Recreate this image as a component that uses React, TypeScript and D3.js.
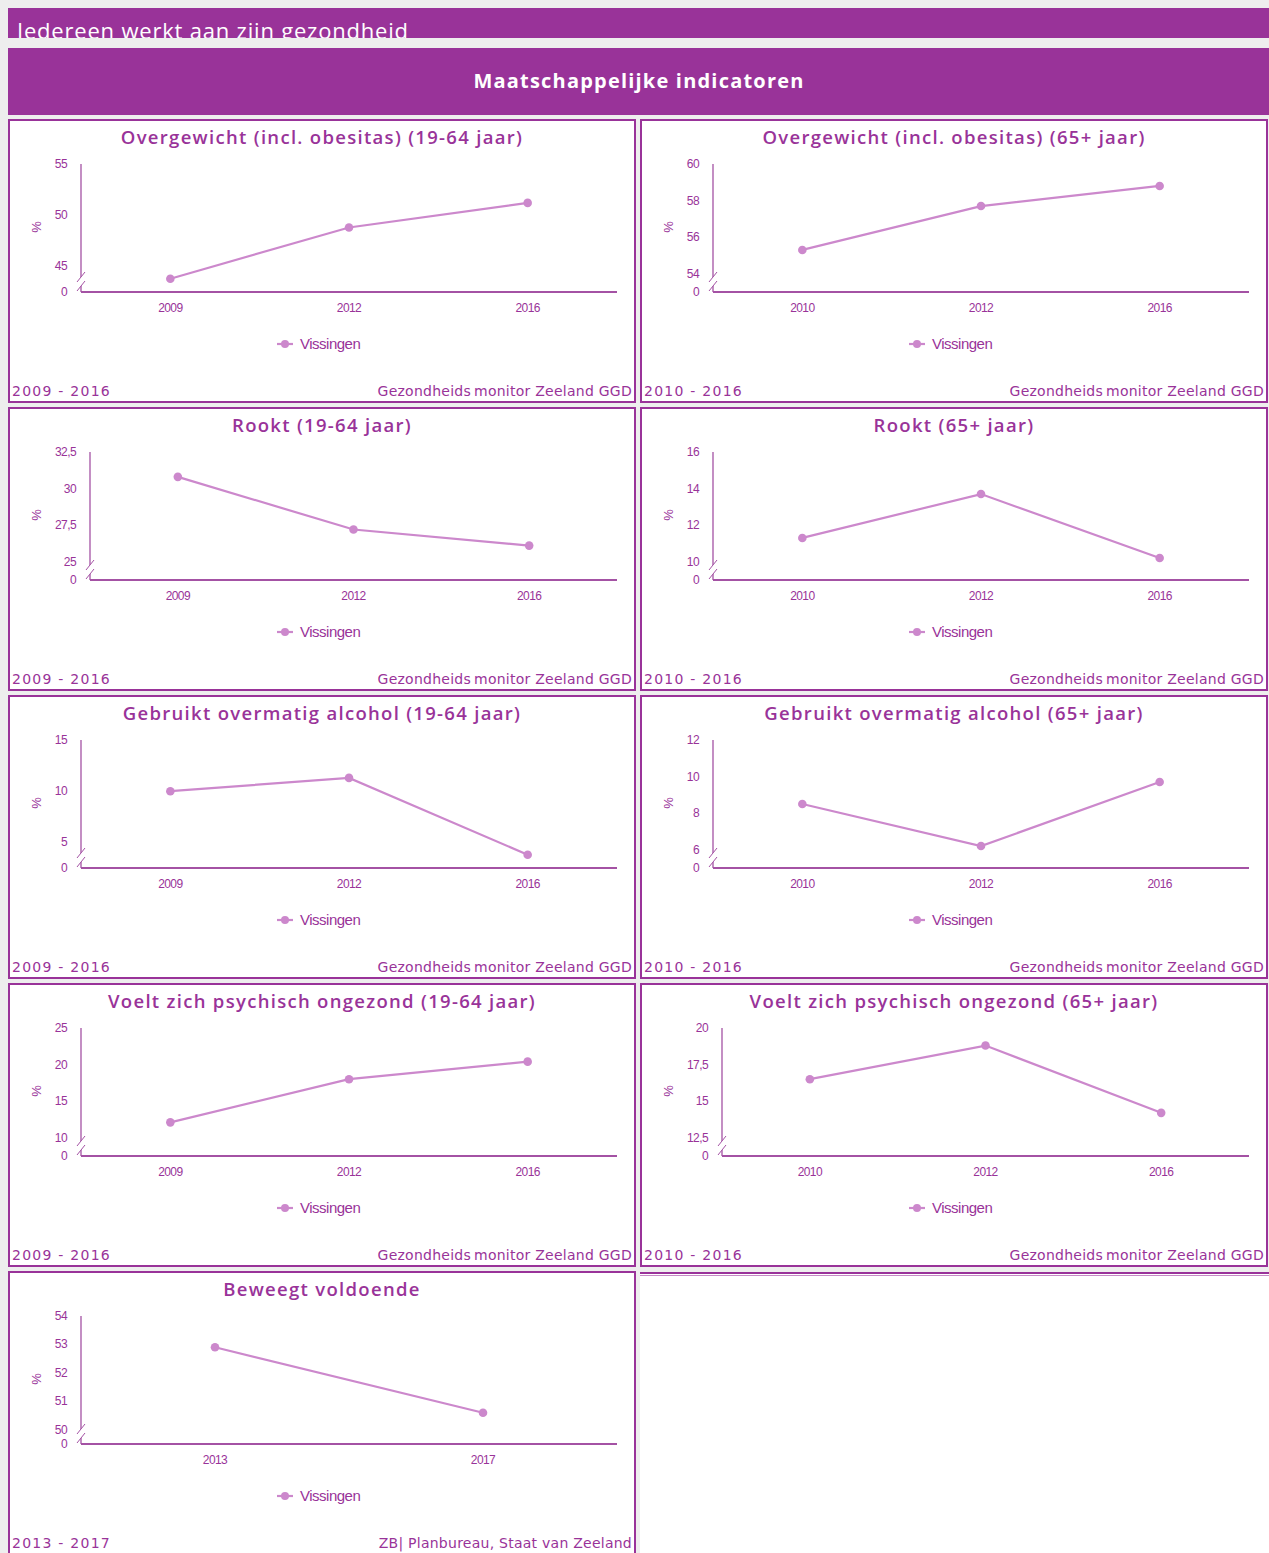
import * as d3 from "d3";

// categories
const years19 = ["2009", "2012", "2016"];
const years65 = ["2010", "2012", "2016"];
const yearsBeweeg = ["2013", "2017"];

// series values (Vissingen, %)
const overgewicht19 = [43.8, 48.8, 51.2];
const overgewicht65 = [55.3, 57.7, 58.8];
const rookt19 = [30.8, 27.2, 26.1];
const rookt65 = [11.3, 13.7, 10.2];
const alcohol19 = [10.0, 11.3, 3.8];
const alcohol65 = [8.5, 6.2, 9.7];
const psychisch19 = [12.1, 18.0, 20.4];
const psychisch65 = [16.5, 18.8, 14.2];
const beweegt = [52.9, 50.6];

// y tick labels (the bottom of each axis is broken and labelled 0)
const ticksOvergewicht19 = [45, 50, 55];
const ticksOvergewicht65 = [54, 56, 58, 60];
const ticksRookt19 = [25, 27.5, 30, 32.5];
const ticksRookt65 = [10, 12, 14, 16];
const ticksAlcohol19 = [5, 10, 15];
const ticksAlcohol65 = [6, 8, 10, 12];
const ticksPsychisch19 = [10, 15, 20, 25];
const ticksPsychisch65 = [12.5, 15, 17.5, 20];
const ticksBeweegt = [50, 51, 52, 53, 54];

// axis ranges
const domainOvergewicht19 = [42.5, 55];
const domainOvergewicht65 = [53, 60];
const domainRookt19 = [23.75, 32.5];
const domainRookt65 = [9, 16];
const domainAlcohol19 = [2.5, 15];
const domainAlcohol65 = [5, 12];
const domainPsychisch19 = [7.5, 25];
const domainPsychisch65 = [11.25, 20];
const domainBeweegt = [49.5, 54];

const SRC_GGD = "Gezondheids\u2009monitor Zeeland GGD";

const panels = [
  { title: "Overgewicht (incl. obesitas) (19-64 jaar)", years: years19, values: overgewicht19, ticks: ticksOvergewicht19, domain: domainOvergewicht19, period: "2009 - 2016", source: SRC_GGD },
  { title: "Overgewicht (incl. obesitas) (65+ jaar)", years: years65, values: overgewicht65, ticks: ticksOvergewicht65, domain: domainOvergewicht65, period: "2010 - 2016", source: SRC_GGD },
  { title: "Rookt (19-64 jaar)", years: years19, values: rookt19, ticks: ticksRookt19, domain: domainRookt19, period: "2009 - 2016", source: SRC_GGD },
  { title: "Rookt (65+ jaar)", years: years65, values: rookt65, ticks: ticksRookt65, domain: domainRookt65, period: "2010 - 2016", source: SRC_GGD },
  { title: "Gebruikt overmatig alcohol (19-64 jaar)", years: years19, values: alcohol19, ticks: ticksAlcohol19, domain: domainAlcohol19, period: "2009 - 2016", source: SRC_GGD },
  { title: "Gebruikt overmatig alcohol (65+ jaar)", years: years65, values: alcohol65, ticks: ticksAlcohol65, domain: domainAlcohol65, period: "2010 - 2016", source: SRC_GGD },
  { title: "Voelt zich psychisch ongezond (19-64 jaar)", years: years19, values: psychisch19, ticks: ticksPsychisch19, domain: domainPsychisch19, period: "2009 - 2016", source: SRC_GGD },
  { title: "Voelt zich psychisch ongezond (65+ jaar)", years: years65, values: psychisch65, ticks: ticksPsychisch65, domain: domainPsychisch65, period: "2010 - 2016", source: SRC_GGD },
  { title: "Beweegt voldoende", years: yearsBeweeg, values: beweegt, ticks: ticksBeweegt, domain: domainBeweegt, period: "2013 - 2017", source: "ZB| Planbureau, Staat van Zeeland" },
];

const PURPLE = "#993399";
const AXIS = "#a452a4";
const SERIES = "#cc88cc";
const BG = "#eeeeee";

const W = 1269;
const H = 1553;
const PANEL_W = 628;
const PANEL_H = 284;
const colX = [8, 640];
const rowY = [119, 407, 695, 983, 1271];

const nl = d3.formatLocale({ decimal: ",", thousands: ".", grouping: [3], currency: ["€", ""] });
const fmt = nl.format("~g");

const tickFont = "'Liberation Sans', Arial, sans-serif";
const footFont = "'DejaVu Sans', Verdana, sans-serif";

function Panel({ p, x, y }: { p: (typeof panels)[number]; x: number; y: number }) {
  const hasDecimals = p.ticks.some((t) => !Number.isInteger(t));
  const axisX = x + (hasDecimals ? 82 : 73);
  const right = x + PANEL_W - 19;
  const top = y + 45;
  const base = y + 173;
  const cx = x + PANEL_W / 2;

  const xs = d3.scalePoint<string>().domain(p.years).range([axisX, right]).padding(0.5);
  const ys = d3.scaleLinear().domain(p.domain).range([base, top]);
  const pts = p.values.map((v, i) => [xs(p.years[i])!, ys(v)] as [number, number]);
  const path = d3.line()(pts) || "";

  return (
    <g>
      <rect x={x + 1} y={y + 1} width={PANEL_W - 2} height={PANEL_H - 2} fill="#fff" stroke={PURPLE} strokeWidth={2} />
      <text x={cx} y={y + 25} textAnchor="middle" fill={PURPLE} fontFamily="'Open Sans', sans-serif" fontWeight={600} fontSize={18.5} letterSpacing={1.3}>
        {p.title}
      </text>

      {/* y axis with break */}
      <line x1={axisX} x2={axisX} y1={top} y2={base} stroke={AXIS} strokeWidth={1.3} />
      <polygon
        points={`${axisX - 4},${base - 10} ${axisX + 4},${base - 20} ${axisX + 4},${base - 11} ${axisX - 4},${base - 1}`}
        fill="#fff"
      />
      <line x1={axisX - 4} y1={base - 10} x2={axisX + 4} y2={base - 20} stroke={AXIS} strokeWidth={1} />
      <line x1={axisX - 4} y1={base - 1} x2={axisX + 4} y2={base - 11} stroke={AXIS} strokeWidth={1} />
      {/* x axis */}
      <line x1={axisX} x2={right} y1={base} y2={base} stroke={AXIS} strokeWidth={2} />

      {p.ticks.map((t) => (
        <text key={t} x={axisX - 14} y={ys(t) + 4} textAnchor="end" fill={PURPLE} fontFamily={tickFont} fontSize={12} letterSpacing={-0.6}>
          {fmt(t)}
        </text>
      ))}
      <text x={axisX - 14} y={base + 4} textAnchor="end" fill={PURPLE} fontFamily={tickFont} fontSize={12} letterSpacing={-0.6}>
        0
      </text>
      {p.years.map((yr) => (
        <text key={yr} x={xs(yr)!} y={base + 20} textAnchor="middle" fill={PURPLE} fontFamily={tickFont} fontSize={12} letterSpacing={-0.6}>
          {yr}
        </text>
      ))}
      <text
        transform={`translate(${x + 33},${y + 108}) rotate(-90)`}
        textAnchor="middle"
        fill={PURPLE}
        fontFamily={tickFont}
        fontSize={13}
      >
        %
      </text>

      <path d={path} fill="none" stroke={SERIES} strokeWidth={2.2} />
      {pts.map(([px, py], i) => (
        <circle key={i} cx={px} cy={py} r={4.3} fill={SERIES} />
      ))}

      {/* legend */}
      <line x1={cx - 45} x2={cx - 29} y1={y + 225} y2={y + 225} stroke={SERIES} strokeWidth={2.2} />
      <circle cx={cx - 37} cy={y + 225} r={4} fill={SERIES} />
      <text x={cx - 22} y={y + 230} fill={PURPLE} fontFamily={tickFont} fontSize={15} letterSpacing={-0.5}>
        Vissingen
      </text>

      {/* footer */}
      <text x={x + 4} y={y + 277} fill={PURPLE} fontFamily={footFont} fontSize={14} letterSpacing={1.25}>
        {p.period}
      </text>
      <text x={x + PANEL_W - 4} y={y + 277} textAnchor="end" fill={PURPLE} fontFamily={footFont} fontSize={14} letterSpacing={0.25}>
        {p.source}
      </text>
    </g>
  );
}

export default function App() {
  return (
    <div style={{ position: "absolute", left: 0, top: 0, width: W, height: H, overflow: "hidden" }}>
      <svg width={W} height={H} style={{ display: "block" }}>
        <defs>
          <clipPath id="hdrclip">
            <rect x={8} y={8} width={W - 8} height={30} />
          </clipPath>
        </defs>
        <rect x={0} y={0} width={W} height={H} fill={BG} />
        <rect x={8} y={8} width={W - 8} height={30} fill={PURPLE} />
        <text x={17} y={39} clipPath="url(#hdrclip)" fill="#fff" fontFamily="'Open Sans', sans-serif" fontSize={22} letterSpacing={0.8}>
          Iedereen werkt aan zijn gezondheid
        </text>
        <rect x={8} y={48} width={W - 8} height={67} fill={PURPLE} />
        <text x={639} y={88} textAnchor="middle" fill="#fff" fontFamily="'Open Sans', sans-serif" fontWeight={700} fontSize={20} letterSpacing={1.2}>
          Maatschappelijke indicatoren
        </text>

        {panels.map((p, i) => (
          <Panel key={p.title} p={p} x={colX[i % 2]} y={rowY[Math.floor(i / 2)]} />
        ))}

        {/* empty cell next to the last panel */}
        <rect x={640} y={1272} width={W - 640} height={H - 1272} fill="#fff" />
        <line x1={640} x2={W} y1={1273} y2={1273} stroke={PURPLE} strokeWidth={2} />
        <line x1={640} x2={W} y1={1275.5} y2={1275.5} stroke="#c58ac5" strokeWidth={1} />
      </svg>
    </div>
  );
}
